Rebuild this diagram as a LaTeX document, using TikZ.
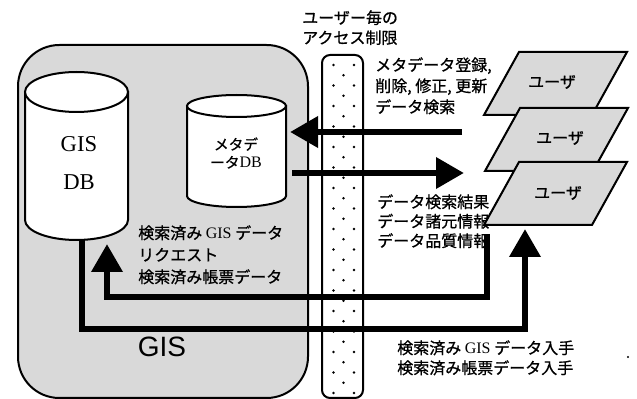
\documentclass[tikz,border=0pt]{standalone}
\usepackage{fontspec}
\setmainfont{Liberation Serif}
\newfontfamily\jp[FakeBold=0.8]{Noto Sans CJK JP}
\newfontfamily\hv{Liberation Sans}
\usetikzlibrary{arrows.meta}
\tikzset{
  pat/.style={fill=black!15},
  outl/.style={draw=black, line width=1.5pt},
  bigarrow/.style={draw=black, line width=5pt, line join=miter,
    -{Triangle[length=21pt,width=22.5pt]}},
  jptext/.style={font=\jp\fontsize{12}{#1}\selectfont, align=left, inner sep=0pt, anchor=north west},
  ulabel/.style={font=\jp\fontsize{12}{14}\selectfont, inner sep=0pt},
  dotmark/.style={fill=black}
}
\begin{document}
\begin{tikzpicture}[x=0.75pt,y=-0.75pt]
\useasboundingbox (0,0) rectangle (637,399);
\fill[white] (0,0) rectangle (637,399);
% GIS frame
\draw[outl, pat, rounded corners=31pt] (18,45) rectangle (308,398);
% GIS DB cylinder
\filldraw[outl, fill=white] (25,92) -- (25,220) arc[start angle=180, end angle=0, x radius=51.5, y radius=20] -- (128,92) -- cycle;
\filldraw[outl, fill=white] (76.5,92) ellipse[x radius=51.5, y radius=20];
\node[font=\rmfamily\fontsize{17}{28.5}\selectfont, align=center, inner sep=0pt] (gisdb) at (79,163) {GIS\\DB};
% Meta DB cylinder
\filldraw[outl, fill=white] (187,106) -- (187,196) arc[start angle=180, end angle=0, x radius=49.5, y radius=11] -- (286,106) -- cycle;
\filldraw[outl, fill=white] (236.5,106) ellipse[x radius=49.5, y radius=11];
\node[font=\jp\fontsize{11}{13.5}\selectfont, align=center, inner sep=0pt] (metadb) at (236,153) {メタデ\\ータ{\rmfamily\fontsize{12}{13.5}\selectfont DB}};
% big GIS label
\node[font=\hv\fontsize{21}{24}\selectfont, inner sep=0pt] (gislabel) at (162,347) {GIS};
% access-control column
\filldraw[outl, fill=white, rounded corners=6pt] (322,55) rectangle (363,398);
\foreach \j [evaluate=\j as \yy using 65+10.25*\j] in {0,2,...,32} {
  \fill[dotmark] (333.5,\yy) circle[radius=1.3];
  \fill[dotmark] (354,\yy) circle[radius=1.3];
}
\foreach \j [evaluate=\j as \yy using 65+10.25*\j] in {1,3,...,31} {
  \fill[dotmark] (343.5,\yy) circle[radius=1.3];
}
% texts
\node[jptext=15pt] (acc) at (302,10) {ユーザー毎の\\アクセス制限};
\node[jptext=15.75pt] (reg) at (375,57) {メタデータ登録,\\削除,\ 修正,\ 更新\\データ検索};
\node[jptext=14.6pt] (res) at (377,194) {データ検索結果\\データ諸元情報\\データ品質情報};
\node[jptext=16.5pt] (req) at (138,225) {検索済み {\rmfamily GIS} データ\\リクエスト\\検索済み帳票データ};
\node[jptext=15pt] (get) at (397,340) {検索済み {\rmfamily GIS} データ入手\\検索済み帳票データ入手};
% users
\filldraw[outl, pat] (484,115) -- (592,115) -- (627,52) -- (519,52) -- cycle;
\node[ulabel] (u1) at (552,82) {ユーザ};
\filldraw[outl, pat] (485,171) -- (593,171) -- (628,108) -- (520,108) -- cycle;
\node[ulabel] (u2) at (560,138) {ユーザ};
\filldraw[outl, pat] (484,225) -- (592,225) -- (627,162) -- (519,162) -- cycle;
\node[ulabel] (u3) at (558,193) {ユーザ};
% arrows
\coordinate (a1s) at (462,132);
\coordinate (a1e) at (290,132);
\draw[bigarrow] (a1s) -- (a1e);
\coordinate (a2s) at (292,173);
\coordinate (a2e) at (464,173);
\draw[bigarrow] (a2s) -- (a2e);
\coordinate (reqs) at (487,234);
\coordinate (reqe) at (107,244);
\draw[bigarrow] (reqs) -- ++(0,63) -| (reqe);
\coordinate (gisb) at (82,239);
\coordinate (dle) at (525,229);
\draw[bigarrow] (gisb) -- ++(0,90) -| (dle);
% stray dot
\fill[dotmark] (628,357) circle[radius=1.2];
\end{tikzpicture}
\end{document}
